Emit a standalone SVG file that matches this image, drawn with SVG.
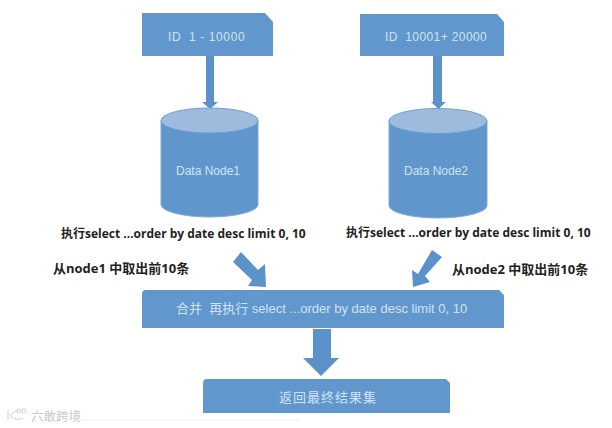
<svg xmlns="http://www.w3.org/2000/svg" width="612" height="428" viewBox="0 0 612 428">
<style>
.box{fill:#6297cd}
.arrow{fill:#5a92c9}
.cylb{fill:#6196cc;stroke:#7fa9d3;stroke-width:1}
.cylt{fill:#9dbbdd;stroke:#6f9fce;stroke-width:1}
.w{fill:#cfe3f7;font-family:"Liberation Sans","Noto Sans CJK SC",sans-serif;font-size:12px}
.k{fill:#222;font-family:"Open Sans","Noto Sans CJK SC",sans-serif;font-size:12px;font-weight:700}
.wm{fill:none;stroke:#cfcfcf;stroke-width:1}
</style>
<rect width="612" height="428" fill="#fff"/>
<g id="connectors">
<path class="arrow" d="M206 55H214V102H218L210 109L202 102H206Z"/>
<path class="arrow" d="M433 55H442V102H446L438.500 109L431 102H433Z"/>
<path class="arrow" d="M233 262L241 252L258 270L265 264L266 287L248 286L252 280Z"/>
<path class="arrow" d="M432 250L442 257L425 276L430 282L413 287L412 270L418 274Z"/>
<path class="arrow" d="M313 329H331V358H339L321 376L303 358H313Z"/>
</g>
<g id="id-range-1">
<path class="box" d="M142 13H265L273 22V56H142Z"/>
<text class="w" x="168" y="41" xml:space="preserve" letter-spacing=".6">ID  1 - 10000</text>
</g>
<g id="id-range-2">
<path class="box" d="M360 14H497L504 22V56H360Z"/>
<text class="w" x="385" y="41" xml:space="preserve" letter-spacing=".4">ID  10001+ 20000</text>
</g>
<g id="data-node-1">
<path class="cylb" d="M161 120.500V204.500A48.500 12.500 0 0 0 258 204.500V120.500Z"/>
<ellipse class="cylt" cx="209.500" cy="120.500" rx="48.500" ry="12.500"/>
<text class="w" x="176" y="175">Data Node1</text>
</g>
<g id="data-node-2">
<path class="cylb" d="M389 121V205.500A49 12.500 0 0 0 487 205.500V121Z"/>
<ellipse class="cylt" cx="438" cy="121" rx="49" ry="12.500"/>
<text class="w" x="404" y="175">Data Node2</text>
</g>
<g id="merge">
<path class="box" d="M146 290H499L504 295V328H142V294Q142 290 146 290Z"/>
<text class="w" x="176" y="313" xml:space="preserve" style="font-size:13px">合并  再执行 select ...order by date desc limit 0, 10</text>
</g>
<g id="result">
<path class="box" d="M207 379H446L450 383V413H203V383Q203 379 207 379Z"/>
<text class="w" x="328" y="402" text-anchor="middle" style="font-size:13px" letter-spacing="1">返回最终结果集</text>
</g>
<g id="labels">
<text class="k" x="61" y="238">执行select ...order by date desc limit 0, 10</text>
<text class="k" x="346" y="237">执行select ...order by date desc limit 0, 10</text>
<text class="k" x="53" y="273" style="font-size:13px">从node1 中取出前10条</text>
<text class="k" x="452" y="274" style="font-size:13px">从node2 中取出前10条</text>
</g>
<g id="watermark">
<path class="wm" d="M8 410V420M18 410Q10 414 11 417Q16 421 23 418"/>
<circle class="wm" cx="19" cy="411" r="2"/>
<circle class="wm" cx="24" cy="411" r="2"/>
<path d="M82 420H300" stroke="#f0f0f0" fill="none"/>
<text x="31" y="421" fill="#c9c9c9" font-family="Noto Sans CJK SC,sans-serif" font-size="12.500px">六敢跨境</text>
</g>
</svg>
